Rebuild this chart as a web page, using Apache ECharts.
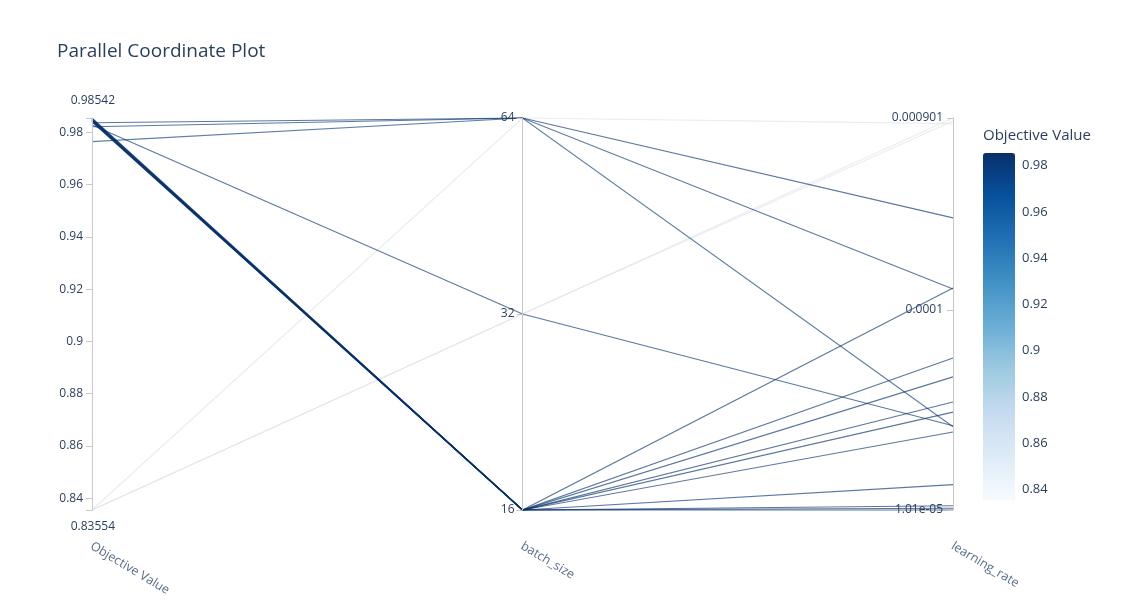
<!DOCTYPE html>
<html><head><meta charset="utf-8">
<script src="https://cdn.jsdelivr.net/npm/echarts@6/dist/echarts.min.js"></script>
<style>html,body{margin:0;padding:0;background:#fff}#c{width:1134px;height:605px}</style>
</head><body><div id="c"></div>
<script>
// ---- data ----
const chartTitle = 'Parallel Coordinate Plot';
const axisNames = ['Objective Value', 'batch_size', 'learning_rate'];
const colorbarTitle = 'Objective Value';
const objectiveValues = [0.83554, 0.83554, 0.83554, 0.97636, 0.98209, 0.98362, 0.98274,
  0.98395, 0.98410, 0.98425, 0.98440, 0.98455, 0.98470, 0.98490, 0.98505, 0.98520, 0.98542];
const batchSizes = [64, 32, 32, 64, 64, 64, 32,
  16, 16, 16, 16, 16, 16, 16, 16, 16, 16];
const learningRates = [8.45e-4, 9.01e-4, 8.7e-4, 2.62e-5, 1.27e-4, 2.87e-4, 2.65e-5,
  1.285e-4, 5.76e-5, 4.64e-5, 3.48e-5, 3.10e-5, 2.47e-5, 1.35e-5, 1.06e-5, 1.03e-5, 1.01e-5];
const objRange = [0.83554, 0.98542];
const batchRange = [16, 64];
const lrRange = [1.01e-5, 9.01e-4];
const bluesScale = ['rgb(247,251,255)','rgb(222,235,247)','rgb(198,219,239)','rgb(158,202,225)',
  'rgb(107,174,214)','rgb(66,146,198)','rgb(33,113,181)','rgb(8,81,156)','rgb(8,48,107)'];
const lineScale = ['rgb(222,226,232)','rgb(210,224,240)','rgb(190,212,234)','rgb(150,192,220)',
  'rgb(100,160,205)','rgb(66,136,190)','rgb(33,105,170)','rgb(12,72,140)','rgb(8,48,107)'];

// ---- build ----
const rows = objectiveValues.map((v, i) => [v, batchSizes[i], learningRates[i]]);
const FONT = '"Open Sans", "Liberation Sans", sans-serif';
const TXT = '#2a3f5f';
const TICK_FS = 12;

function fmtObj(v) {
  if (Math.abs(v - objRange[0]) < 1e-9) return '{lo|' + objRange[0] + '}';
  if (Math.abs(v - objRange[1]) < 1e-9) return '{hi|' + objRange[1] + '}';
  return '{n|' + String(parseFloat(v.toFixed(4))) + '}';
}
function fmtLr(v) {
  if (v < 9e-5) {
    const e = Math.floor(Math.log10(v) + 1e-9);
    const m = v / Math.pow(10, e);
    return m.toFixed(2) + 'e-' + String(-e).padStart(2, '0');
  }
  return String(parseFloat(v.toPrecision(3)));
}
const axisCommon = {
  nameLocation: 'start',
  nameGap: 28,
  nameRotate: -31,
  nameTextStyle: { color: '#5a6d8c', fontSize: 12.5, fontFamily: FONT, align: 'left', verticalAlign: 'top', padding: [0, 0, 0, 3] },
  axisLine: { lineStyle: { color: '#c8c8c8', width: 1 } },
  axisTick: { inside: false, lineStyle: { color: '#c8c8c8' }, length: -6 },
  axisLabel: { color: TXT, fontSize: TICK_FS, fontFamily: FONT, margin: -9, align: 'right' },
  splitLine: { show: false }
};
const richBase = { color: TXT, fontSize: TICK_FS, fontFamily: FONT };

const option = {
  backgroundColor: '#fff',
  animation: false,
  title: { text: chartTitle, left: 52, top: 37,
    textStyle: { fontFamily: FONT, fontSize: 19, fontWeight: 'normal', color: TXT } },
  parallel: { left: 92, right: 181, top: 118, bottom: 95, parallelAxisDefault: axisCommon },
  parallelAxis: [
    Object.assign({}, axisCommon, { dim: 0, name: axisNames[0], type: 'value', min: objRange[0], max: objRange[1], splitNumber: 7,
      axisLabel: Object.assign({}, axisCommon.axisLabel, { formatter: fmtObj, margin: 23,
        rich: { n: Object.assign({ padding: [0, 32, 0, 0] }, richBase),
                lo: Object.assign({ padding: [34, 0, 0, 0] }, richBase),
                hi: Object.assign({ padding: [0, 0, 34, 0] }, richBase) } }) }),
    Object.assign({}, axisCommon, { dim: 1, name: axisNames[1], type: 'log', logBase: 2, min: batchRange[0], max: batchRange[1],
      axisLabel: Object.assign({}, axisCommon.axisLabel, { margin: -8, formatter: v => String(Math.round(v)) }) }),
    Object.assign({}, axisCommon, { dim: 2, name: axisNames[2], type: 'log', logBase: 10, min: lrRange[0], max: lrRange[1],
      axisLabel: Object.assign({}, axisCommon.axisLabel, { margin: -10, formatter: fmtLr }) })
  ],
  grid: { left: 983, top: 153, width: 32, height: 347 },
  xAxis: { type: 'value', show: false, min: 0, max: 1 },
  yAxis: { type: 'value', position: 'left', min: objRange[0], max: objRange[1], splitNumber: 7,
    name: colorbarTitle, nameLocation: 'end', nameGap: 17,
    nameTextStyle: { align: 'left', verticalAlign: 'middle', color: TXT, fontSize: 15, fontFamily: FONT },
    axisLine: { show: false }, axisTick: { show: false }, splitLine: { show: false },
    axisLabel: { inside: true, margin: 39, showMinLabel: false, showMaxLabel: false, color: TXT, fontSize: 13, fontFamily: FONT } },
  visualMap: [
    { type: 'continuous', show: false, seriesIndex: 0, dimension: 0, min: objRange[0], max: objRange[1], inRange: { color: lineScale } },
    { type: 'continuous', seriesIndex: 1, dimension: 1, min: objRange[0], max: objRange[1], left: 983, top: 153,
      itemWidth: 32, itemHeight: 347, padding: 0, calculable: false, hoverLink: false, realtime: false,
      inRange: { color: bluesScale } }
  ],
  series: [
    { type: 'parallel', data: rows, smooth: false, lineStyle: { width: 1.15, opacity: 0.66 }, emphasis: { disabled: true } },
    { type: 'line', xAxisIndex: 0, yAxisIndex: 0, data: [], silent: true }
  ]
};
const chart = echarts.init(document.getElementById('c'), null, { renderer: 'canvas' });
chart.setOption(option);
</script></body></html>
